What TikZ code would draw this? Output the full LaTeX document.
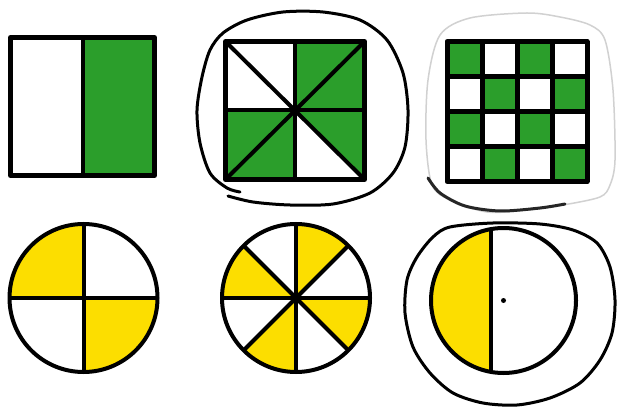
\documentclass[tikz,border=0pt]{standalone}
\usepackage{tikz}
\definecolor{leafgreen}{RGB}{43,158,43}
\definecolor{sunyellow}{RGB}{252,222,0}
\tikzset{
    rim/.style={line width=1mm},
    split/.style={line width=0.8mm},
    pen/.style={line width=0.6mm, line cap=round}
}

\begin{document}
\begin{tikzpicture}[x=0.2mm,y=0.2mm,line join=round]
    \useasboundingbox (0,0) rectangle (619,409);
    \fill[white] (0,0) rectangle (619,409);

    % Square in halves
    \fill[leafgreen] (83,233.5) rectangle (154.5,371.5);
    \draw[split] (83,233.5) -- (83,371.5);
    \draw[rim] (10.5,233.5) rectangle (154.5,371.5);

    % Square with diagonals
    \coordinate (o) at (295,298.5);
    \fill[leafgreen] (o) rectangle (364.5,367.5);
    \fill[leafgreen] (225.5,229.5) rectangle (o);
    \fill[leafgreen] (o) -- (364.5,298.5) -- (364.5,229.5) -- cycle;
    \draw[split] (225.5,367.5) -- (364.5,229.5);
    \draw[split] (225.5,229.5) -- (364.5,367.5);
    \draw[split] (295,229.5) -- (295,367.5);
    \draw[split] (225.5,298.5) -- (364.5,298.5);
    \draw[rim] (225.5,229.5) rectangle (364.5,367.5);

    % Checkerboard
    \foreach \i in {0,...,3}
        \foreach \j in {0,...,3} {
            \pgfmathtruncatemacro\k{\i+\j}
            \ifodd\k\else
                \fill[leafgreen] (447+35*\i,367.5-35*\j) rectangle ++(35,-35);
            \fi
        }
    \foreach \i in {1,2,3} {
        \draw[rim] (447+35*\i,227.5) -- (447+35*\i,367.5);
        \draw[rim] (447,227.5+35*\i) -- (587,227.5+35*\i);
    }
    \draw[rim] (447,227.5) rectangle (587,367.5);

    % Circle in quarters
    \coordinate (c1) at (83.5,111);
    \fill[sunyellow] (c1) -- ++(90:74) arc (90:180:74) -- cycle;
    \fill[sunyellow] (c1) -- ++(270:74) arc (270:360:74) -- cycle;
    \draw[split] (c1) ++(-74,0) -- ++(148,0);
    \draw[split] (c1) ++(0,-74) -- ++(0,148);
    \draw[split] (c1) circle (74);

    % Circle in eighths
    \coordinate (c2) at (296,111);
    \foreach \a in {45,135,225,315}
        \fill[sunyellow] (c2) -- ++(\a:74) arc (\a:\a+45:74) -- cycle;
    \foreach \a in {0,45,90,135}
        \draw[split] (c2) ++(\a:74) -- ++({\a+180}:148);
    \draw[split] (c2) circle (74);

    % Circle cut by a chord
    \coordinate (c3) at (503.5,108.5);
    \fill[sunyellow] (c3) ++(100:72.5) arc (100:260:72.5) -- cycle;
    \draw[split] (c3) ++(100:72.5) -- ++(0,-142.8);
    \draw[split] (c3) circle (72.5);
    \fill (c3) circle (2.5);

    % Hand-drawn rings
    \draw[pen] plot[smooth] coordinates {(240,217) (227,221) (210,236) (200,266)
        (197,299) (202,332) (210,359) (223,376) (247,389) (283,397) (323,397)
        (360,389) (387,369) (403,336) (408,299) (405,262) (393,236) (370,216)
        (333,205) (290,204) (253,207) (228,213)};
    \draw[line width=0.3mm, black!18] plot[smooth cycle] coordinates {(426,269)
        (428,329) (440,374) (470,391) (527,396) (560,392) (590,384) (605,369)
        (613,319) (615,249) (610,224) (600,212) (563,204) (527,199) (487,197)
        (450,209) (432,224)};
    \draw[pen, black!85] plot[smooth] coordinates {(428,231) (440,216) (465,203)
        (500,198) (540,201) (565,205)};
    \draw[pen] plot[smooth cycle] coordinates {(450,182) (493,186) (540,185)
        (573,179) (597,166) (610,142) (615,109) (612,76) (600,49) (580,26)
        (550,11) (517,4) (483,6) (453,16) (430,36) (413,62) (405,96) (407,129)
        (417,152) (433,172)};
\end{tikzpicture}
\end{document}
